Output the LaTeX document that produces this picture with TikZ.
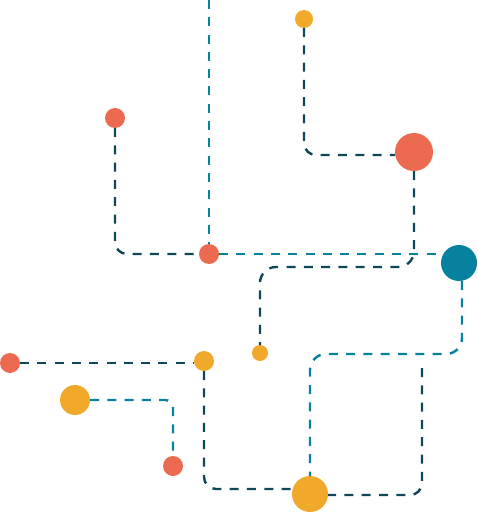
\documentclass[tikz,border=0pt]{standalone}
\definecolor{coral}{HTML}{EC6A50}
\definecolor{amber}{HTML}{F0A92B}
\definecolor{petrol}{HTML}{07819E}
\definecolor{deep}{HTML}{0E4757}
\usepackage{tikz}
\tikzstyle{base}=[x=1pt, y=-1pt, inner sep=0pt, outer sep=0pt]
\tikzstyle{dot}=[circle, draw=none, inner sep=0pt, outer sep=0pt]
\tikzstyle{trail}=[line width=2.4pt, dash pattern=on 9pt off 8.3pt]

\begin{document}
\begin{tikzpicture}[base]
    \useasboundingbox (0,0) rectangle (477,513);
        \node [dot, fill=amber, minimum size=18pt] (ytop) at (304,19) {};
        \node [dot, fill=coral, minimum size=20pt] (rleft) at (115,118) {};
        \node [dot, fill=coral, minimum size=38pt] (rbig) at (414,152) {};
        \node [dot, fill=coral, minimum size=20pt] (rjoin) at (209,254) {};
        \node [dot, fill=petrol, minimum size=36pt] (tbig) at (459,263) {};
        \node [dot, fill=amber, minimum size=16pt] (ysmall) at (260,353) {};
        \node [dot, fill=coral, minimum size=20pt] (rfar) at (10,363) {};
        \node [dot, fill=amber, minimum size=20pt] (ymid) at (204,361) {};
        \node [dot, fill=amber, minimum size=30pt] (yleft) at (75,400) {};
        \node [dot, fill=coral, minimum size=20pt] (rlow) at (173,466) {};
        \node [dot, fill=amber, minimum size=36pt] (ybig) at (310,494) {};
        \coordinate (topend) at (209,0);
        \coordinate (freeend) at (422,368);
        % teal trails
        \draw [trail, petrol] (topend) -- (rjoin);
        \draw [trail, petrol] (rjoin) -- (rjoin -| tbig.west);
        \draw [trail, petrol, rounded corners=16] ([xshift=3pt]tbig.south) -- ++(0,73) -| (ybig);
        \draw [trail, petrol, rounded corners=8] (yleft) -| (rlow);
        % dark trails
        \draw [trail, deep, rounded corners=12] (rleft) |- (rjoin);
        \draw [trail, deep, rounded corners=12] (ytop) |- ([yshift=-3pt]rbig.west);
        \draw [trail, deep, rounded corners=16] (rbig) -- ++(0,115) -| (ysmall);
        \draw [trail, deep, rounded corners=12] (freeend) |- ([yshift=-1pt]ybig.east);
        \draw [trail, deep] (rfar) -- (rfar -| ymid.west);
        \draw [trail, deep, rounded corners=12] (ymid) |- ([yshift=5pt]ybig.west);
\end{tikzpicture}
\end{document}
